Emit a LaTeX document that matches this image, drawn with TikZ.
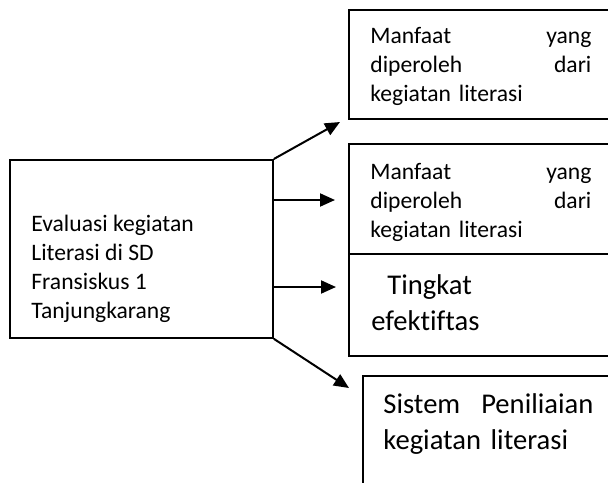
\documentclass[tikz,border=0pt]{standalone}
\usepackage{fontspec}
\setmainfont{Carlito}[Ligatures=NoCommon]
\usetikzlibrary{arrows.meta, positioning}
\tikzset{
    kotak/.style={draw, line width=0.9pt, rectangle, inner sep=0pt, anchor=north west},
    teks/.style={inner sep=0pt, anchor=base west, align=left, font=\fontsize{11.8}{14.5}\selectfont},
    teksbesar/.style={teks, font=\fontsize{14.3}{18}\selectfont},
    panah/.style={line width=1pt, -{Triangle[length=7.5pt, width=6.5pt]}},
}

\begin{document}
\begin{tikzpicture}[x=0.5pt, y=-0.5pt]
    \useasboundingbox (0,0) rectangle (608,482);

    % 左边的框
    \node[kotak, minimum width=131.5pt, minimum height=89pt] (eval) at (9,159) {};
    \node[teks] (evalteks) at (31,318) {Evaluasi kegiatan\\Literasi di SD\\Fransiskus 1\\Tanjungkarang};

    % 右边的框
    \node[kotak, minimum width=132pt, minimum height=54.5pt] (manfaat1) at (348,9) {};
    \node[teks, text width=110.5pt] (manfaat1teks) at (370,43) {Manfaat\hfill yang\\diperoleh\hfill dari\\kegiatan literasi};

    \node[kotak, minimum width=132pt, minimum height=55pt] (manfaat2) at (348,143) {};
    \node[teks, text width=110.5pt] (manfaat2teks) at (370,179) {Manfaat\hfill yang\\diperoleh\hfill dari\\kegiatan literasi};

    \node[kotak, minimum width=132pt, minimum height=51pt] (tingkat) at (348,253) {};
    \node[teksbesar] (tingkatteks) at (371,330) {\hspace*{8pt}Tingkat\\efektiftas};

    \node[kotak, minimum width=125pt, minimum height=60pt] (sistem) at (362,375) {};
    \node[teksbesar, text width=105pt] (sistemteks) at (383,413) {Sistem\hfill Peniliaian\\kegiatan literasi};

    % 箭头
    \coordinate (ujung1) at (340,122);
    \coordinate (ujung2) at (335,200);
    \coordinate (ujung3) at (336,287);
    \coordinate (ujung4) at (349,388);
    \draw[panah] (eval.north east) -- (ujung1);
    \draw[panah] (eval.east |- ujung2) -- (ujung2);
    \draw[panah] (eval.east |- ujung3) -- (ujung3);
    \draw[panah] (eval.south east) -- (ujung4);
\end{tikzpicture}
\end{document}
